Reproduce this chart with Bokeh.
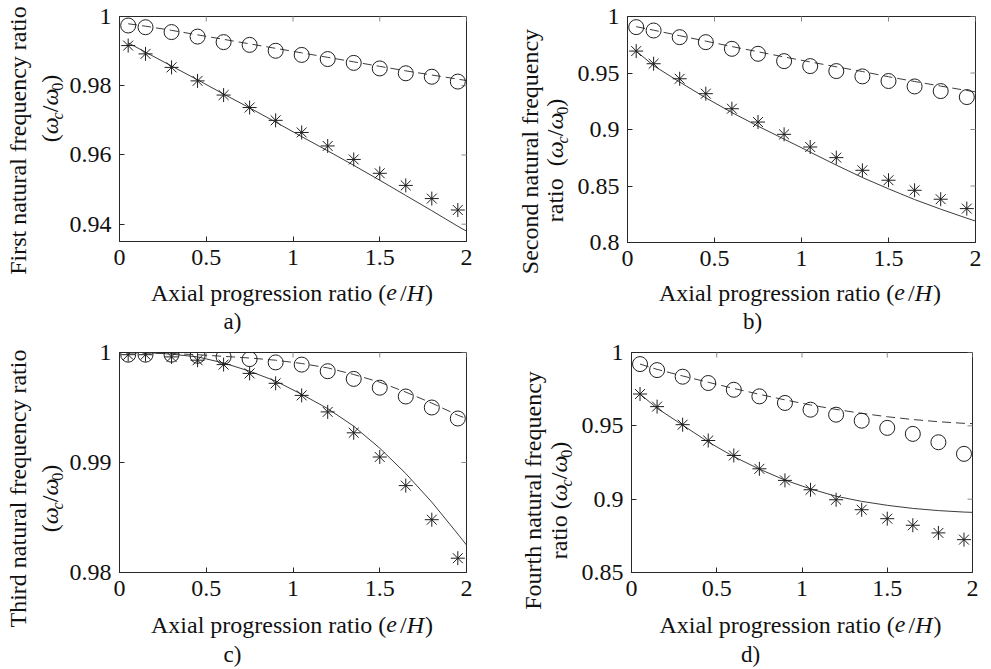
import math
from bokeh.plotting import figure
from bokeh.models import Range1d, FixedTicker, PrintfTickFormatter, Label
from bokeh.layouts import column, row
from bokeh.embed import file_html
from bokeh.resources import INLINE

# ---------------- data ----------------
x_pts = [0.05, 0.15, 0.3, 0.45, 0.6, 0.75, 0.9, 1.05, 1.2, 1.35, 1.5, 1.65, 1.8, 1.95]
x_line = [0.05, 0.15, 0.3, 0.45, 0.6, 0.75, 0.9, 1.05, 1.2, 1.35, 1.5, 1.65, 1.8, 1.95, 2.0]
x_ticks = [0, 0.5, 1, 1.5, 2]

a_circ = [0.9974, 0.9969, 0.9955, 0.9942, 0.9926, 0.9918, 0.9901, 0.9889, 0.9877, 0.9866, 0.9850, 0.9836, 0.9826, 0.9812]
a_dash = [0.9979, 0.9972, 0.9960, 0.9947, 0.9934, 0.9921, 0.9908, 0.9895, 0.9882, 0.9869, 0.9856, 0.9843, 0.9831, 0.9819, 0.9815]
a_star = [0.9916, 0.9892, 0.9853, 0.9814, 0.9773, 0.9737, 0.9700, 0.9665, 0.9626, 0.9587, 0.9547, 0.9512, 0.9474, 0.9441]
a_solid = [0.9924, 0.9897, 0.9857, 0.9817, 0.9776, 0.9736, 0.9695, 0.9653, 0.9612, 0.9570, 0.9527, 0.9483, 0.9439, 0.9394, 0.9380]
a_yticks = [0.94, 0.96, 0.98, 1]

b_circ = [0.9906, 0.9876, 0.9817, 0.9773, 0.9714, 0.9670, 0.9605, 0.9561, 0.9517, 0.9470, 0.9429, 0.9381, 0.9340, 0.9287]
b_dash = [0.9910, 0.9879, 0.9830, 0.9782, 0.9734, 0.9688, 0.9642, 0.9598, 0.9555, 0.9513, 0.9467, 0.9425, 0.9384, 0.9345, 0.9333]
b_star = [0.9694, 0.9582, 0.9449, 0.9317, 0.9184, 0.9066, 0.8957, 0.8845, 0.8751, 0.8639, 0.8551, 0.8462, 0.8383, 0.8300]
b_solid = [0.9694, 0.9565, 0.9420, 0.9280, 0.9150, 0.9030, 0.8915, 0.8800, 0.8685, 0.8575, 0.8475, 0.8380, 0.8295, 0.8215, 0.8190]
b_yticks = [0.8, 0.85, 0.9, 0.95, 1]

c_circ = [0.9998, 0.9998, 0.9998, 0.9997, 0.9996, 0.9994, 0.9991, 0.9989, 0.9983, 0.9976, 0.9968, 0.9960, 0.9950, 0.9940]
c_dash = [0.99995, 0.99995, 0.9999, 0.9998, 0.99965, 0.9995, 0.9993, 0.9990, 0.9986, 0.9980, 0.9973, 0.9964, 0.9954, 0.9943, 0.9940]
c_star = [0.9998, 0.9998, 0.9996, 0.9993, 0.9989, 0.9981, 0.9972, 0.9961, 0.9946, 0.9927, 0.9905, 0.9879, 0.9848, 0.9813]
c_solid = [1.0, 1.0, 0.99985, 0.9996, 0.99905, 0.9983, 0.9974, 0.9962, 0.9949, 0.9933, 0.9913, 0.9890, 0.9864, 0.9835, 0.9825]
c_yticks = [0.98, 0.99, 1]

d_circ = [0.9921, 0.9880, 0.9835, 0.9792, 0.9746, 0.9701, 0.9656, 0.9610, 0.9576, 0.9535, 0.9486, 0.9445, 0.9388, 0.9309]
d_dash = [0.9921, 0.9885, 0.9840, 0.9797, 0.9755, 0.9715, 0.9677, 0.9642, 0.9612, 0.9585, 0.9562, 0.9543, 0.9528, 0.9517, 0.9515]
d_star = [0.9717, 0.9631, 0.9508, 0.9400, 0.9298, 0.9207, 0.9128, 0.9064, 0.8996, 0.8928, 0.8867, 0.8822, 0.8770, 0.8724]
d_solid = [0.9717, 0.9620, 0.9505, 0.9390, 0.9290, 0.9205, 0.9130, 0.9070, 0.9020, 0.8985, 0.8958, 0.8937, 0.8922, 0.8912, 0.8910]
d_yticks = [0.85, 0.9, 0.95, 1]

x_title = "Axial progression ratio"
y_titles = ["First natural frequency ratio", "Second natural frequency",
            "Third natural frequency ratio", "Fourth natural frequency"]
y_prefix = ["", "ratio", "", "ratio"]
letters = ["a)", "b)", "c)", "d)"]

# ---------------- style ----------------
FONT = "Liberation Serif"
TXT = "#111111"
AX = "#262626"
LINE = "#3c3c3c"
MK = "#1e1e1e"
LAB = 24
SUB = 16
SHIFT = 0.33   # empirical correction of the drawn baseline, in em

REG = {' ': .25, '(': .333, ')': .333, '/': .278, 'A': .722, 'x': .5, 'i': .278, 'a': .444, 'l': .278,
       'p': .5, 'r': .333, 'o': .5, 'g': .5, 'e': .444, 's': .389, 'n': .5, 't': .278, 'F': .556,
       'u': .5, 'f': .333, 'q': .5, 'c': .444, 'y': .5, 'S': .556, 'd': .5, 'T': .611, 'h': .5, '0': .5}
ITA = {'e': .444, 'H': .722, 'c': .444, 'ω': .62}


def width(txt, size, italic=False):
    tab = ITA if italic else REG
    return sum(tab.get(ch, .5) for ch in txt) * size


def text_fig(w, h):
    f = figure(width=w, height=h, output_backend="svg", toolbar_location=None,
               x_range=Range1d(0, w), y_range=Range1d(0, h), x_axis_type=None, y_axis_type=None,
               min_border=0, min_border_left=0, min_border_right=0, min_border_top=0, min_border_bottom=0,
               frame_align=False)
    f.grid.visible = False
    f.outline_line_color = None
    f.background_fill_color = "white"
    f.border_fill_color = "white"
    return f


def mk_label(p, **kw):
    base = dict(text_font=FONT, text_color=TXT, text_baseline="alphabetic", text_align="left")
    base.update(kw)
    p.add_layout(Label(**base))


def xlabel_fig(w, h, xc, base_y, letter, let_x, let_y):
    f = text_fig(w, h)
    pieces = [(x_title + " (", False, 0), ("e", True, 3), ("/", False, 0), ("H", True, 1), (")", False, 0)]
    total = sum(width(t, LAB, it) + g for t, it, g in pieces)
    pos = xc - total / 2
    for t, it, g in pieces:
        mk_label(f, x=pos, y=base_y + SHIFT * LAB, text=t, text_font_size=f"{LAB}px",
                 text_font_style="italic" if it else "normal")
        pos += width(t, LAB, it) + g
    mk_label(f, x=let_x, y=let_y + SHIFT * 23, text=letter, text_font_size="23px", text_align="center")
    return f


def ylabel_fig(w, h, line1, prefix, gap, b1, c1, b2, c2):
    f = text_fig(w, h)
    w1 = width(line1, LAB)
    mk_label(f, x=b1 - SHIFT * LAB, y=c1 - w1 / 2, text=line1, angle=math.pi / 2,
             text_font_size=f"{LAB}px")
    pieces = [("(", False, LAB, 0), ("ω", True, LAB, 0), ("c", True, SUB, 5), ("/", False, LAB, 0),
              ("ω", True, LAB, 0), ("0", False, SUB, 5), (")", False, LAB, 0)]
    if prefix:
        pieces = [(prefix, False, LAB, 0), (None, gap, 0, 0)] + pieces
    total = sum((t[1] if t[0] is None else width(t[0], t[2], t[1])) for t in pieces)
    pos = c2 - total / 2
    for t, it, s, sh in pieces:
        if t is None:
            pos += it
            continue
        mk_label(f, x=b2 + sh - SHIFT * s, y=pos, text=t, angle=math.pi / 2, text_font_size=f"{s}px",
                 text_font_style="italic" if it else "normal")
        pos += width(t, s, it)
    return f


def plot_fig(circ, dash, star, solid, yr, yticks, w, h, bl, br, bt, bb):
    p = figure(width=w, height=h, output_backend="svg", toolbar_location=None,
               x_range=Range1d(0, 2), y_range=Range1d(*yr), frame_align=False,
               min_border_left=bl, min_border_right=br, min_border_top=bt, min_border_bottom=bb)
    p.grid.visible = False
    p.background_fill_color = "white"
    p.border_fill_color = "white"
    p.outline_line_color = AX
    p.outline_line_width = 1
    for ax in (p.xaxis[0], p.yaxis[0]):
        ax.major_tick_in = 5
        ax.major_tick_out = 0
        ax.minor_tick_line_color = None
        ax.axis_line_color = AX
        ax.major_tick_line_color = AX
        ax.major_label_text_font = FONT
        ax.major_label_text_font_size = "24px"
        ax.major_label_text_color = TXT
        ax.major_label_standoff = 8
        ax.formatter = PrintfTickFormatter(format="%g")
    p.xaxis[0].ticker = FixedTicker(ticks=x_ticks)
    p.yaxis[0].ticker = FixedTicker(ticks=yticks)
    # mirrored inward ticks on the top and right edges (half of each dash is clipped by the frame)
    p.scatter(x_ticks, [yr[1]] * len(x_ticks), marker="dash", angle=math.pi / 2, size=10,
              line_color="#8a8a8a", line_width=1)
    p.scatter([2] * len(yticks), yticks, marker="dash", size=10, line_color="#8a8a8a", line_width=1)

    p.line(x_line, dash, line_color=LINE, line_width=1, line_dash="9 5")
    p.line(x_line, solid, line_color=LINE, line_width=1)
    p.scatter(x_pts, circ, marker="circle", size=15, fill_color=None, line_color=MK, line_width=1)
    p.scatter(x_pts, star, marker="asterisk", size=14, line_color=MK, line_width=1)
    return p


# ---- panel a (top-left) ----
pa = plot_fig(a_circ, a_dash, a_star, a_solid, (0.935, 1.0), a_yticks, 429, 277, 51, 29, 16, 36)
xa = xlabel_fig(429, 58, 225.5, 35, letters[0], 166, 6)
ya = ylabel_fig(66, 335, y_titles[0], y_prefix[0], 0, 25, 195, 57, 227)
panel_a = row(ya, column(pa, xa))

# ---- panel b (top-right) ----
pb = plot_fig(b_circ, b_dash, b_star, b_solid, (0.8, 1.0), b_yticks, 417, 277, 50, 16, 16, 35)
xb = xlabel_fig(417, 58, 225.5, 35, letters[1], 178, 6)
yb = ylabel_fig(79, 335, y_titles[1], y_prefix[1], 12, 42, 184, 67, 175)
panel_b = row(yb, column(pb, xb))

# ---- panel c (bottom-left) ----
pc = plot_fig(c_circ, c_dash, c_star, c_solid, (0.98, 1.0), c_yticks, 429, 273, 51, 29, 17, 36)
xc = xlabel_fig(429, 61, 225.5, 37, letters[2], 166, 7)
yc = ylabel_fig(66, 334, y_titles[2], y_prefix[2], 0, 25, 181, 57, 171)
panel_c = row(yc, column(pc, xc))

# ---- panel d (bottom-right) ----
pd_ = plot_fig(d_circ, d_dash, d_star, d_solid, (0.85, 1.0), d_yticks, 413, 273, 50, 19, 17, 36)
xd = xlabel_fig(413, 61, 222, 37, letters[3], 172, 7)
yd = ylabel_fig(83, 334, y_titles[3], y_prefix[3], 6, 45, 179, 71, 169)
panel_d = row(yd, column(pd_, xd))

layout = column(row(panel_a, panel_b), row(panel_c, panel_d))
open("out.html", "w").write(file_html(layout, INLINE))
